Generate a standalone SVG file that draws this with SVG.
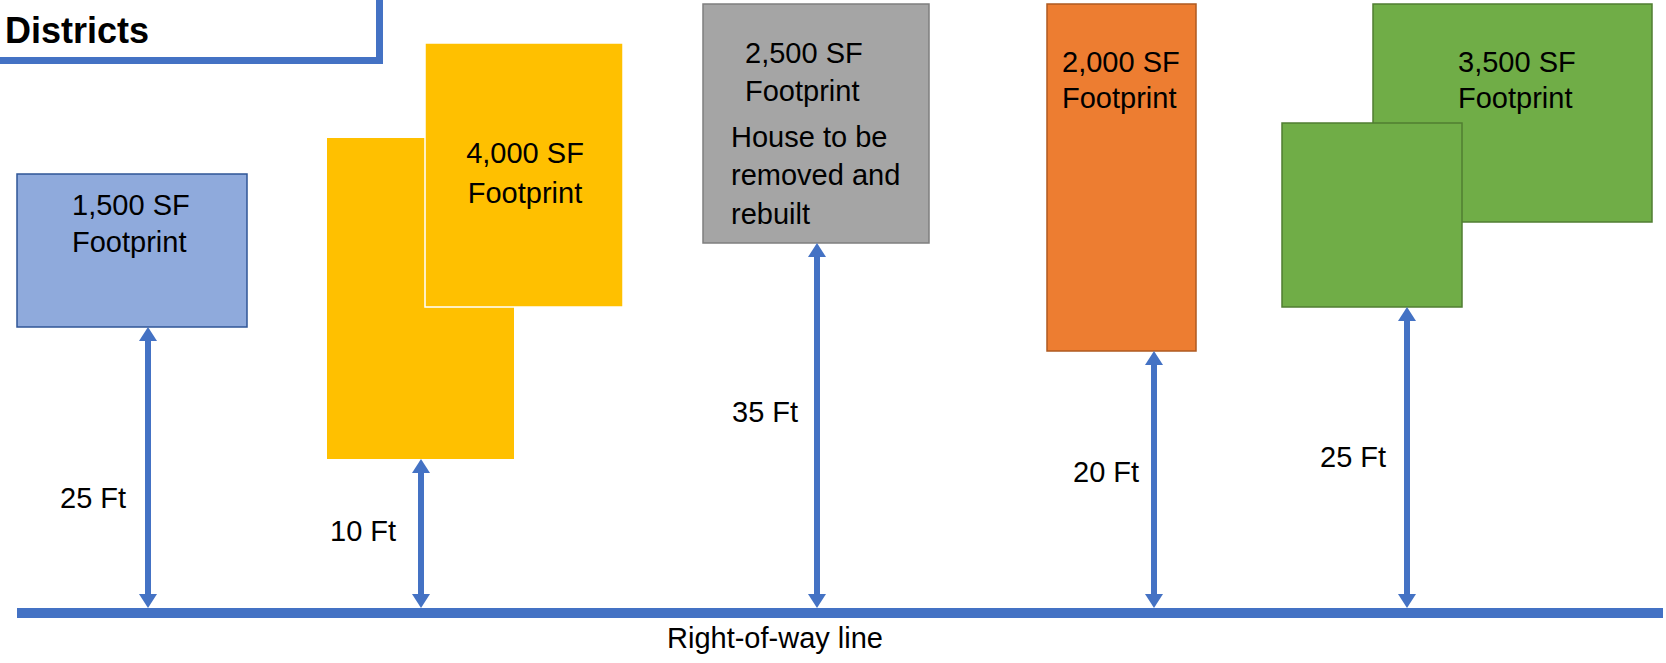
<svg xmlns="http://www.w3.org/2000/svg" width="1666" height="663" viewBox="0 0 1666 663">
<style>
  text { font-family: "Liberation Sans", Arial, sans-serif; font-size: 29px; fill: #000000; }
  .title { font-size: 36px; font-weight: bold; }
  .shaft { stroke: #4472C4; stroke-width: 6; fill: none; marker-start: url(#ah); marker-end: url(#ah); }
</style>
<defs>
  <marker id="ah" markerUnits="userSpaceOnUse" viewBox="0 0 14 18" markerWidth="14" markerHeight="18" refX="0" refY="9" orient="auto-start-reverse">
    <path d="M0,0 L14,9 L0,18 Z" fill="#4472C4"/>
  </marker>
</defs>
<rect x="0" y="0" width="1666" height="663" fill="#ffffff"/>

<g id="title">
  <path d="M0,60.5 H379.5 V0" fill="none" stroke="#4472C4" stroke-width="7"/>
  <text class="title" x="5" y="43">Districts</text>
</g>

<g id="house-1500">
  <rect x="17" y="174" width="230" height="153" fill="#8FAADC" stroke="#2F5597" stroke-width="1.5"/>
  <text x="72" y="215">1,500 SF</text>
  <text x="72" y="252">Footprint</text>
</g>

<g id="house-4000">
  <rect x="327" y="138" width="187" height="321" fill="#FFC000"/>
  <rect x="425" y="43" width="198" height="264" fill="#FFC000" stroke="#FFFFFF" stroke-width="1.5"/>
  <text x="525" y="163" text-anchor="middle">4,000 SF</text>
  <text x="525" y="203" text-anchor="middle">Footprint</text>
</g>

<g id="house-2500">
  <rect x="703" y="4" width="226" height="239" fill="#A5A5A5" stroke="#7F7F7F" stroke-width="1.5"/>
  <text x="745" y="63">2,500 SF</text>
  <text x="745" y="101">Footprint</text>
  <text x="731" y="147">House to be</text>
  <text x="731" y="185">removed and</text>
  <text x="731" y="224">rebuilt</text>
</g>

<g id="house-2000">
  <rect x="1047" y="4" width="149" height="347" fill="#ED7D31" stroke="#AE5A21" stroke-width="1.5"/>
  <text x="1062" y="72">2,000 SF</text>
  <text x="1062" y="108">Footprint</text>
</g>

<g id="house-3500">
  <rect x="1373" y="4" width="279" height="218" fill="#70AD47" stroke="#507E32" stroke-width="1.5"/>
  <rect x="1282" y="123" width="180" height="184" fill="#70AD47" stroke="#507E32" stroke-width="1.5"/>
  <text x="1458" y="72">3,500 SF</text>
  <text x="1458" y="108">Footprint</text>
</g>

<g id="row-line">
  <line x1="17" y1="613" x2="1663" y2="613" stroke="#4472C4" stroke-width="10"/>
  <text x="667" y="648">Right-of-way line</text>
</g>

<g id="connectors">
  <line class="shaft" x1="148" y1="341" x2="148" y2="594"/>
  <line class="shaft" x1="421" y1="473" x2="421" y2="594"/>
  <line class="shaft" x1="817" y1="257" x2="817" y2="594"/>
  <line class="shaft" x1="1154" y1="365" x2="1154" y2="594"/>
  <line class="shaft" x1="1407" y1="321" x2="1407" y2="594"/>
</g>

<g id="labels">
  <text x="60" y="508">25 Ft</text>
  <text x="330" y="541">10 Ft</text>
  <text x="732" y="422">35 Ft</text>
  <text x="1073" y="482">20 Ft</text>
  <text x="1320" y="467">25 Ft</text>
</g>
</svg>
